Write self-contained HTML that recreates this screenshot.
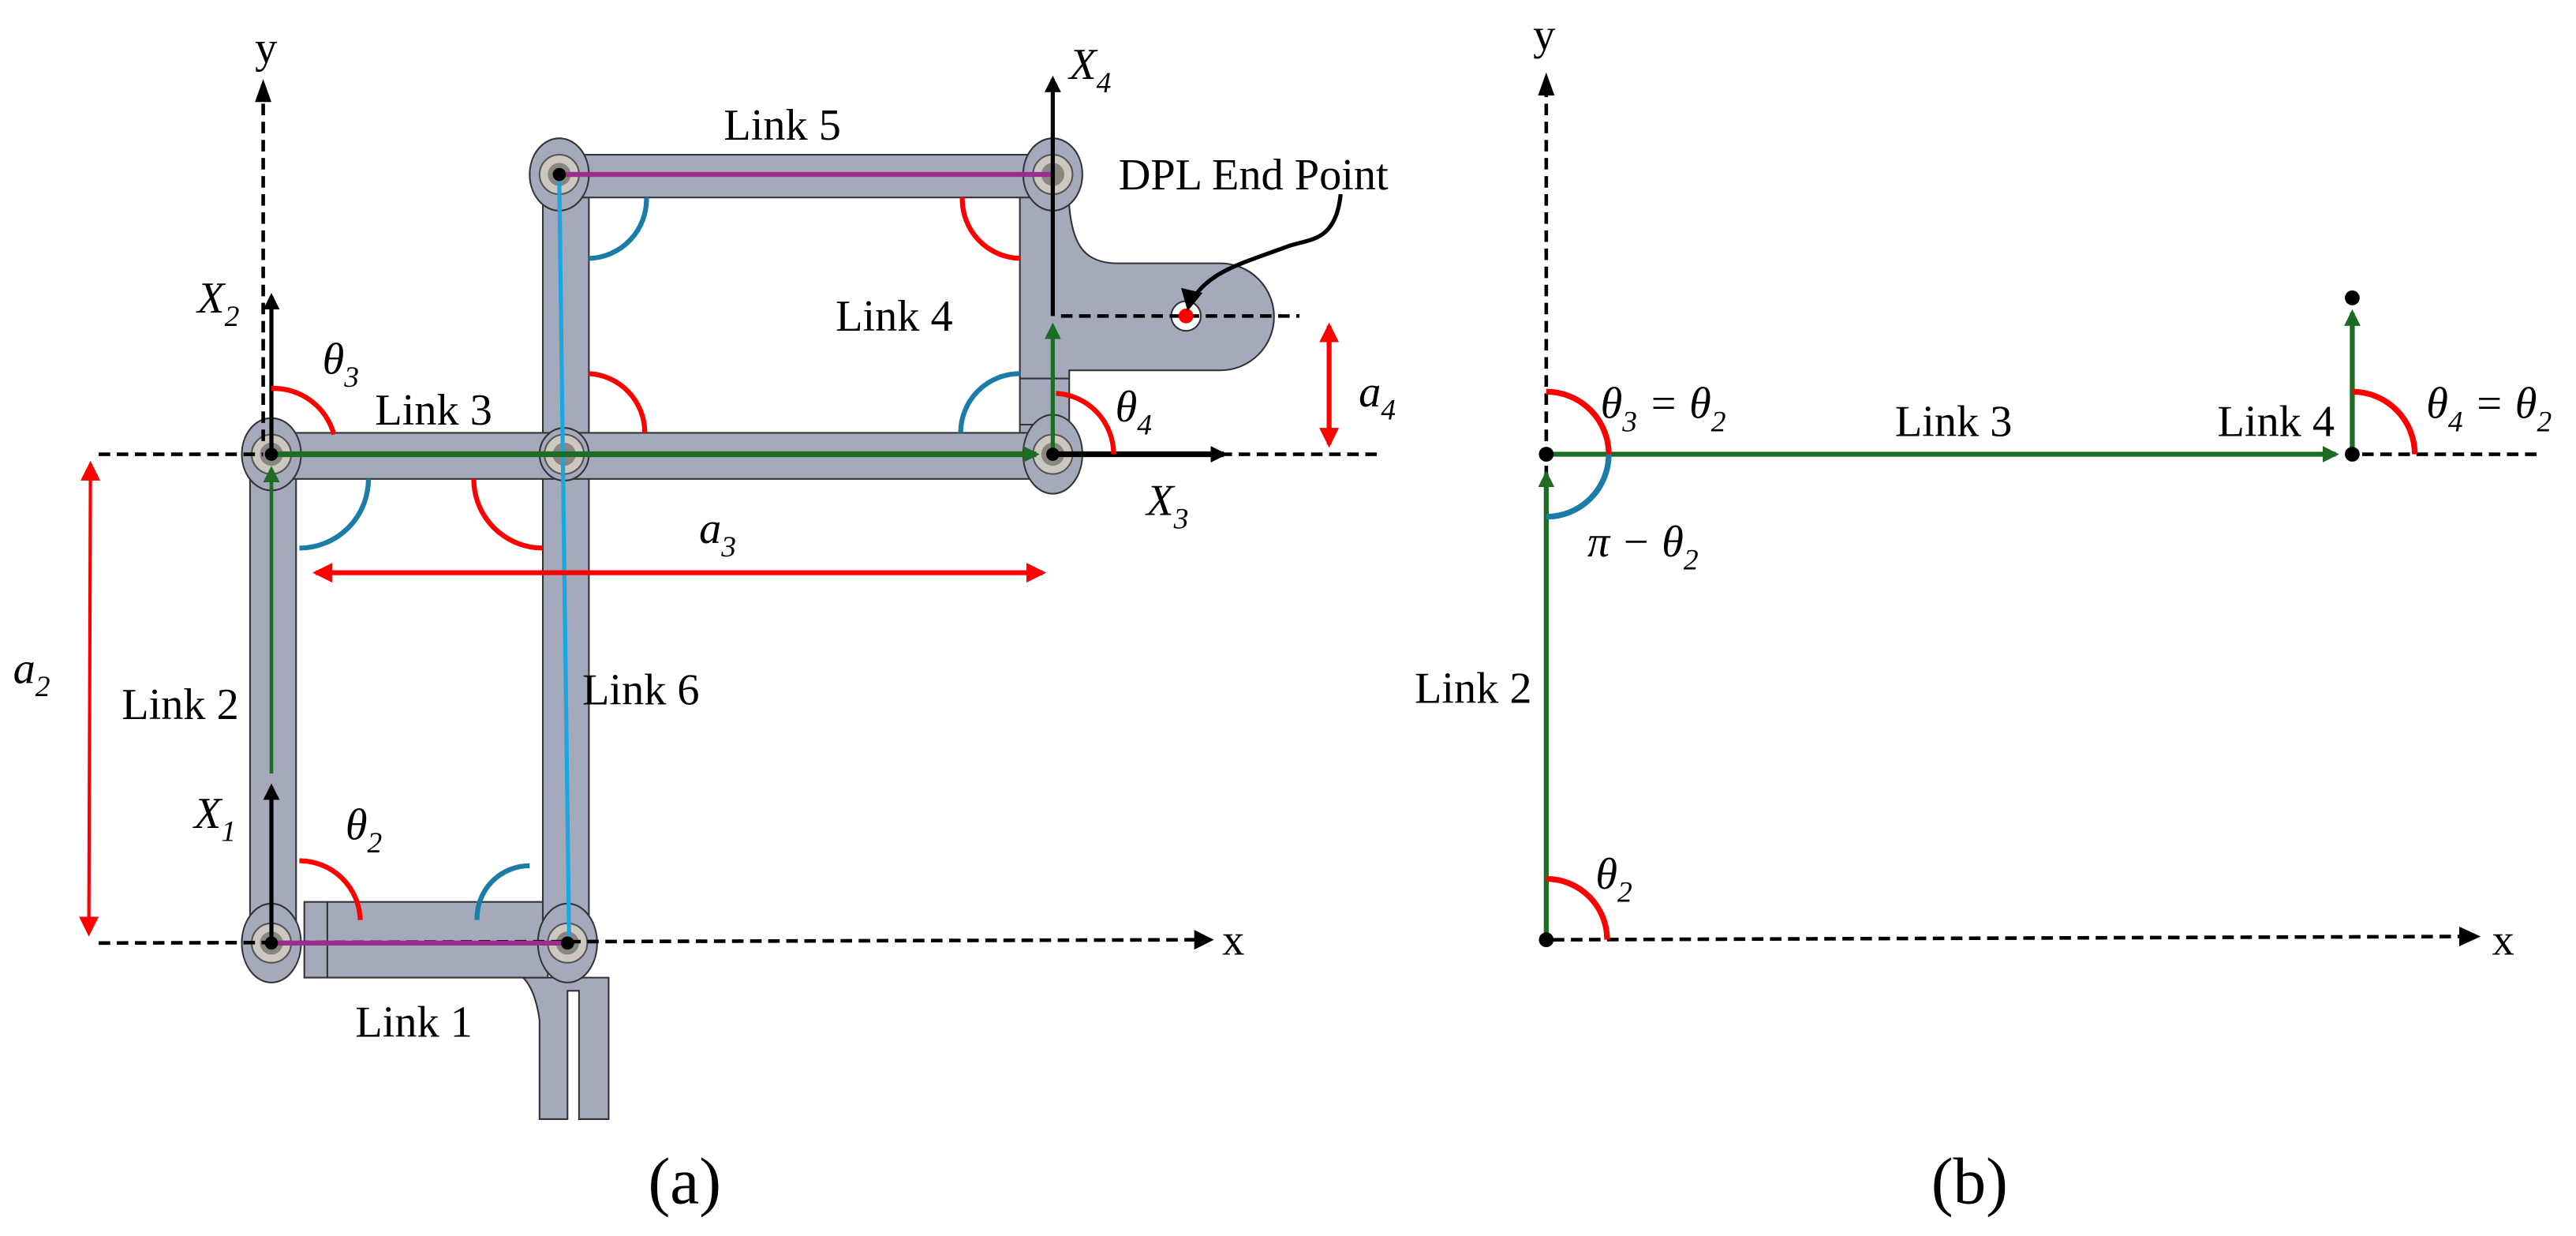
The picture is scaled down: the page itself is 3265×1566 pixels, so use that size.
<!DOCTYPE html>
<html><head><meta charset="utf-8"><style>
html,body{margin:0;padding:0;background:#fff;}
svg{display:block;}
.m{font-style:italic;}
</style></head><body>
<svg width="3265" height="1566" viewBox="0 0 1566 751" preserveAspectRatio="none" xmlns="http://www.w3.org/2000/svg" font-family="Liberation Serif, Times New Roman, serif">
<defs>
<marker id="ak" markerWidth="10" markerHeight="10" refX="8" refY="5" orient="auto" markerUnits="userSpaceOnUse"><path d="M0,0 L10,5 L0,10 z" fill="#000"/></marker>
<marker id="ag" markerWidth="10" markerHeight="10" refX="8" refY="5" orient="auto" markerUnits="userSpaceOnUse"><path d="M0,0 L10,5 L0,10 z" fill="#1e6b24"/></marker>
<marker id="ar" markerWidth="12" markerHeight="12" refX="10" refY="6" orient="auto-start-reverse" markerUnits="userSpaceOnUse"><path d="M0,0 L12,6 L0,12 z" fill="#f00"/></marker>
</defs>

<!-- ===== Panel (a) ===== -->
<path d="M620,100 L650,100 L650,125 C652,150 660,160 680,160 L742,160 A32,32 0 0 1 742,225 L650,225 L650,290 L620,290 Z" fill="#a4a9bc" stroke="#333" stroke-width="1"/>
<line x1="620" y1="230" x2="650" y2="230" stroke="#333" stroke-width="1"/>
<line x1="620" y1="258" x2="650" y2="258" stroke="#333" stroke-width="1"/>
<circle cx="721" cy="192" r="9" fill="#fff" stroke="#333"/>
<path d="M318,594 L370,594 L370,680 L352,680 L352,602 L345,602 L345,680 L328,680 L328,620 C326,605 322,598 318,594 Z" fill="#a4a9bc" stroke="#333" stroke-width="1"/>
<rect x="185" y="548" width="148" height="46" fill="#a4a9bc" stroke="#333"/>
<line x1="199" y1="548" x2="199" y2="594" stroke="#333"/>
<rect x="152" y="272" width="28" height="305" fill="#a4a9bc" stroke="#333"/>
<rect x="330" y="102" width="28" height="475" fill="#a4a9bc" stroke="#333"/>
<rect x="338" y="94" width="308" height="26" fill="#a4a9bc" stroke="#333"/>
<rect x="165" y="263" width="480" height="28" fill="#a4a9bc" stroke="#333"/>
<g fill="#a4a9bc" stroke="#333" stroke-width="1">
<ellipse cx="165" cy="276" rx="18" ry="22"/>
<ellipse cx="343" cy="276" rx="15" ry="16"/>
<ellipse cx="640" cy="276" rx="18" ry="24"/>
<ellipse cx="340" cy="106" rx="18" ry="22"/>
<ellipse cx="640" cy="106" rx="18" ry="22"/>
<ellipse cx="165" cy="573" rx="18" ry="24"/>
<ellipse cx="345" cy="573" rx="18" ry="24"/>
</g>
<g fill="#cdc7bf" stroke="#555" stroke-width="1">
<circle cx="165" cy="276" r="12"/><circle cx="343" cy="276" r="12"/><circle cx="640" cy="276" r="12"/>
<circle cx="340" cy="106" r="12"/><circle cx="640" cy="106" r="12"/><circle cx="165" cy="573" r="12"/><circle cx="345" cy="573" r="12"/>
</g>
<g fill="#8a8580">
<circle cx="165" cy="276" r="7"/><circle cx="343" cy="276" r="7"/><circle cx="640" cy="276" r="7"/>
<circle cx="340" cy="106" r="7"/><circle cx="640" cy="106" r="7"/><circle cx="165" cy="573" r="7"/><circle cx="345" cy="573" r="7"/>
</g>

<g stroke="#000" stroke-width="2.2" stroke-dasharray="7,4" fill="none">
<line x1="160" y1="268" x2="160" y2="60"/>
<line x1="60" y1="276" x2="160" y2="276"/>
<line x1="720" y1="276" x2="838" y2="276"/>
<line x1="645" y1="192" x2="790" y2="192"/>
<line x1="60" y1="573" x2="728" y2="571"/>
</g>
<path d="M160,48 L155,62 L165,62 Z" fill="#000"/>
<path d="M738,571 L726,565 L726,577 Z" fill="#000"/>

<line x1="340" y1="106" x2="640" y2="106" stroke="#9b2d8f" stroke-width="3"/>
<line x1="165" y1="573" x2="345" y2="573" stroke="#9b2d8f" stroke-width="3"/>
<line x1="340" y1="110" x2="346" y2="573" stroke="#1aa7e0" stroke-width="2.5"/>

<line x1="165" y1="276" x2="165" y2="180" stroke="#000" stroke-width="2.5" marker-end="url(#ak)"/>
<line x1="165" y1="573" x2="165" y2="478" stroke="#000" stroke-width="2.5" marker-end="url(#ak)"/>
<line x1="640" y1="192" x2="640" y2="48" stroke="#000" stroke-width="2.5" marker-end="url(#ak)"/>
<line x1="640" y1="276" x2="744" y2="276" stroke="#000" stroke-width="3.5" marker-end="url(#ak)"/>

<line x1="165" y1="470" x2="165" y2="285" stroke="#1e6b24" stroke-width="2.2" marker-end="url(#ag)"/>
<line x1="165" y1="276" x2="630" y2="276" stroke="#1e6b24" stroke-width="3.5" marker-end="url(#ag)"/>
<line x1="640" y1="276" x2="640" y2="198" stroke="#1e6b24" stroke-width="2.5" marker-end="url(#ag)"/>
<g fill="#000"><circle cx="165" cy="276" r="4"/><circle cx="640" cy="276" r="4"/><circle cx="340" cy="106" r="4"/><circle cx="165" cy="573" r="4"/><circle cx="345" cy="573" r="4"/></g>
<circle cx="721" cy="192" r="4.5" fill="#f00"/>

<line x1="55" y1="282" x2="54" y2="567" stroke="#f00" stroke-width="2" marker-start="url(#ar)" marker-end="url(#ar)"/>
<line x1="192" y1="348" x2="634" y2="348" stroke="#f00" stroke-width="3" marker-start="url(#ar)" marker-end="url(#ar)"/>
<line x1="808" y1="198" x2="808" y2="270" stroke="#f00" stroke-width="3" marker-start="url(#ar)" marker-end="url(#ar)"/>

<g fill="none" stroke-width="3">
<path d="M165,236 A38,38 0 0 1 203,264" stroke="#f00"/>
<path d="M224,291 A42,42 0 0 1 182,333" stroke="#1b7ca8"/>
<path d="M288,291 A42,42 0 0 0 330,333" stroke="#f00"/>
<path d="M358,227 A36,36 0 0 1 392,263" stroke="#f00"/>
<path d="M393,120 A36,36 0 0 1 358,157" stroke="#1b7ca8"/>
<path d="M585,120 A36,36 0 0 0 620,157" stroke="#f00"/>
<path d="M620,227 A36,36 0 0 0 584,263" stroke="#1b7ca8"/>
<path d="M642,239 A37,37 0 0 1 677,276" stroke="#f00"/>
<path d="M182,523 A37,37 0 0 1 219,559" stroke="#f00"/>
<path d="M290,559 A32,32 0 0 1 322,526" stroke="#1b7ca8"/>
</g>

<path d="M815,118 C812,148 795,145 782,150 C755,160 735,165 725,182" fill="none" stroke="#000" stroke-width="2.5"/>
<path d="M722,189 L718,175 L731,178 Z" fill="#000"/>

<g font-size="27" fill="#000">
<text x="155" y="38">y</text>
<text x="120" y="190" class="m">X<tspan font-size="18" dy="8">2</tspan></text>
<text x="650" y="48" class="m">X<tspan font-size="18" dy="8">4</tspan></text>
<text x="697" y="313" class="m">X<tspan font-size="18" dy="8">3</tspan></text>
<text x="118" y="503" class="m">X<tspan font-size="18" dy="8">1</tspan></text>
<text x="196" y="227" class="m">θ<tspan font-size="18" dy="8">3</tspan></text>
<text x="678" y="256" class="m">θ<tspan font-size="18" dy="8">4</tspan></text>
<text x="210" y="510" class="m">θ<tspan font-size="18" dy="8">2</tspan></text>
<text x="425" y="330" class="m">a<tspan font-size="18" dy="8">3</tspan></text>
<text x="8" y="415" class="m">a<tspan font-size="18" dy="8">2</tspan></text>
<text x="826" y="247" class="m">a<tspan font-size="18" dy="8">4</tspan></text>
<text x="440" y="85">Link 5</text>
<text x="508" y="201">Link 4</text>
<text x="228" y="258">Link 3</text>
<text x="74" y="437">Link 2</text>
<text x="354" y="428">Link 6</text>
<text x="216" y="630">Link 1</text>
<text x="680" y="115">DPL End Point</text>
<text x="743" y="580">x</text>
</g>
<text x="394" y="731" font-size="40">(a)</text>

<!-- ===== Panel (b) ===== -->
<g stroke="#000" stroke-width="2.2" stroke-dasharray="7,4" fill="none">
<line x1="940" y1="565" x2="940" y2="58"/>
<line x1="944" y1="571" x2="1495" y2="569"/>
<line x1="1436" y1="276" x2="1545" y2="276"/>
</g>
<path d="M940,44 L935,58 L945,58 Z" fill="#000"/>
<path d="M1508,569 L1495,563 L1495,575 Z" fill="#000"/>
<line x1="940" y1="571" x2="940" y2="288" stroke="#1e6b24" stroke-width="3" marker-end="url(#ag)"/>
<line x1="940" y1="276" x2="1420" y2="276" stroke="#1e6b24" stroke-width="3" marker-end="url(#ag)"/>
<line x1="1430" y1="276" x2="1430" y2="190" stroke="#1e6b24" stroke-width="3" marker-end="url(#ag)"/>
<g fill="#000"><circle cx="940" cy="571" r="4.5"/><circle cx="940" cy="276" r="4.5"/><circle cx="1430" cy="276" r="4.5"/><circle cx="1430" cy="181" r="4.5"/></g>
<g fill="none" stroke-width="3.5">
<path d="M940,534 A37,37 0 0 1 977,571" stroke="#f00"/>
<path d="M940,238 A38,38 0 0 1 978,276" stroke="#f00"/>
<path d="M978,276 A38,38 0 0 1 940,314" stroke="#1b7ca8"/>
<path d="M1430,238 A38,38 0 0 1 1468,276" stroke="#f00"/>
</g>
<g font-size="27" fill="#000">
<text x="932" y="30">y</text>
<text x="1515" y="580">x</text>
<text x="970" y="540" class="m">θ<tspan font-size="18" dy="8">2</tspan></text>
<text x="973" y="254" class="m">θ<tspan font-size="18" dy="8">3</tspan><tspan dy="-8"> = θ</tspan><tspan font-size="18" dy="8">2</tspan></text>
<text x="965" y="338" class="m">π − θ<tspan font-size="18" dy="8">2</tspan></text>
<text x="1475" y="254" class="m">θ<tspan font-size="18" dy="8">4</tspan><tspan dy="-8"> = θ</tspan><tspan font-size="18" dy="8">2</tspan></text>
<text x="1152" y="265">Link 3</text>
<text x="1348" y="265">Link 4</text>
<text x="860" y="427">Link 2</text>
</g>
<text x="1174" y="731" font-size="40">(b)</text>
</svg>
</body></html>
